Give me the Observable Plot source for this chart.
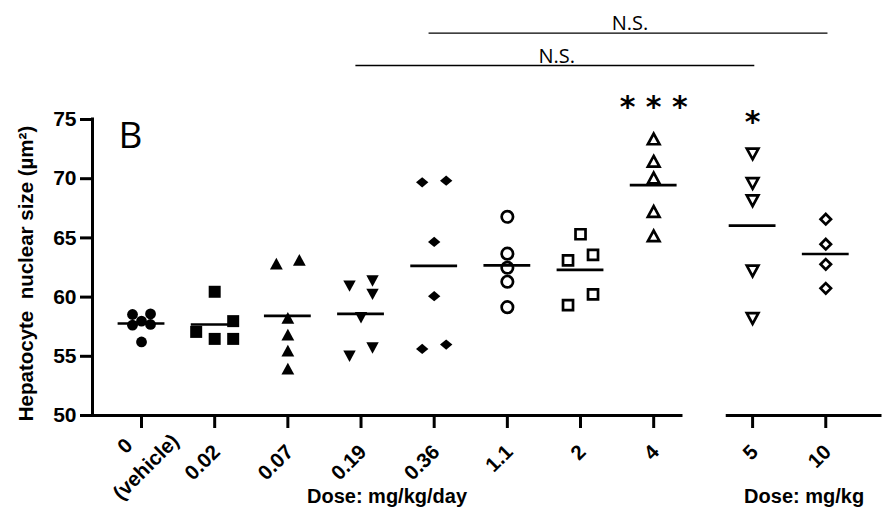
<!DOCTYPE html>
<html><head><meta charset="utf-8">
<script src="https://cdn.jsdelivr.net/npm/d3@7"></script>
<script src="https://cdn.jsdelivr.net/npm/@observablehq/plot@0.6"></script>
<style>body{margin:0;background:#fff;}</style>
</head><body><div id="chart"></div>
<script>
// ---- data ----
const categories = ["0\n(vehicle)", "0.02", "0.07", "0.19", "0.36", "1.1", "2", "4", "5", "10"];
const v0    = [58.58, 58.53, 57.97, 57.69, 57.63, 56.21];
const v002  = [60.45, 57.97, 57.06, 56.47, 56.47];
const v007  = [63.14, 62.82, 58.25, 56.84, 55.48, 53.96];
const v019  = [61.36, 60.93, 60.23, 58.25, 55.70, 55.00];
const v036  = [69.83, 69.69, 64.66, 60.08, 55.99, 55.62];
const v11   = [66.78, 63.67, 62.48, 61.30, 59.15];
const v2    = [65.31, 63.56, 63.11, 60.23, 59.32];
const v4    = [73.36, 71.47, 70.06, 67.23, 65.17];
const v5    = [72.09, 69.60, 68.14, 62.20, 58.19];
const v10   = [66.58, 64.47, 62.77, 60.74];
const seriesValues = [v0, v002, v007, v019, v036, v11, v2, v4, v5, v10];
const significance = ["", "", "", "", "", "", "", "***", "*", ""];
const comparisons = [
  {from: "0.19", to: "5", label: "N.S.", level: 1},
  {from: "0.36", to: "10", label: "N.S.", level: 2}
];
const yTicks = [50, 55, 60, 65, 70, 75];
const yTitle = "Hepatocyte  nuclear size (µm²)";
const axisTitles = ["Dose: mg/kg/day", "Dose: mg/kg"];

// ---- layout helpers ----
const W = 884, H = 513;
const mL = 92, mR = 4, mT = 119, mB = 98;
const breakAfter = 7, gap = 0.352;
const pos = i => i <= breakAfter ? i : i + gap;
const xMin = -0.67, xMax = 10.1;
const pxPerX = (W - mL - mR) / (xMax - xMin);
const pxPerY = (H - mT - mB) / 25;

// custom symbols (r recovered from area)
const mk = fn => ({draw(ctx, size) { const r = Math.sqrt(size / Math.PI); fn(ctx, r); }});
const symCircle = mk((c, r) => { c.moveTo(r, 0); c.arc(0, 0, r, 0, 2 * Math.PI); });
const symSquare = mk((c, r) => { c.rect(-r, -r, 2 * r, 2 * r); });
const symTriUp = mk((c, r) => { c.moveTo(0, -0.92 * r); c.lineTo(r, 0.92 * r); c.lineTo(-r, 0.92 * r); c.closePath(); });
const symTriDown = mk((c, r) => { c.moveTo(0, 0.92 * r); c.lineTo(r, -0.92 * r); c.lineTo(-r, -0.92 * r); c.closePath(); });
const symDiamondFlat = mk((c, r) => { c.moveTo(0, -0.83 * r); c.lineTo(r, 0); c.lineTo(0, 0.83 * r); c.lineTo(-r, 0); c.closePath(); });
const symDiamond = mk((c, r) => { c.moveTo(0, -r); c.lineTo(r, 0); c.lineTo(0, r); c.lineTo(-r, 0); c.closePath(); });

const markers = [
  {symbol: symCircle, r: 5.4, filled: true, lane: 9, thr: 9.5},
  {symbol: symSquare, r: 6, filled: true, lane: 18.5, thr: 12},
  {symbol: symTriUp, r: 6.4, filled: true, lane: 11.5, thr: 11.5},
  {symbol: symTriDown, r: 6.2, filled: true, lane: 11.5, thr: 11.5},
  {symbol: symDiamondFlat, r: 6.2, filled: true, lane: 12, thr: 10.5},
  {symbol: symCircle, r: 5.7, filled: false, lane: 12, thr: 12},
  {symbol: symSquare, r: 5, filled: false, lane: 12.5, thr: 12},
  {symbol: symTriUp, r: 5.8, filled: false, lane: 12, thr: 13},
  {symbol: symTriDown, r: 5.8, filled: false, lane: 12, thr: 13},
  {symbol: symDiamond, r: 5.2, filled: false, lane: 12, thr: 13}
];

// simple dodge: descending order, spread colliding points into lanes
function dodge(values, lane, thr) {
  const pts = values.map(v => ({value: v, py: -v * pxPerY, ox: 0}));
  const sorted = pts.slice().sort((a, b) => b.value - a.value);
  const placed = [];
  const cand = [1, -1, 0, 2, -2, 3, -3];
  for (const p of sorted) {
    const conflict = pts.some(q => q !== p && Math.abs(q.py - p.py) < thr);
    if (!conflict) { p.ox = 0; placed.push(p); continue; }
    for (const k of cand) {
      const ox = k * lane;
      if (placed.every(q => Math.hypot(q.ox - ox, q.py - p.py) >= thr)) { p.ox = ox; break; }
    }
    placed.push(p);
  }
  return pts;
}

const groups = categories.map((c, i) => ({
  cat: c, i, values: seriesValues[i],
  mean: d3.mean(seriesValues[i]), max: d3.max(seriesValues[i]), sig: significance[i]
}));

const marks = [];
// axes lines
marks.push(Plot.ruleX([xMin], {y1: 50, y2: 75, strokeWidth: 3, strokeLinecap: "square"}));
marks.push(Plot.ruleY([50], {x1: xMin, x2: pos(breakAfter) + 0.38, strokeWidth: 3, strokeLinecap: "square"}));
marks.push(Plot.ruleY([50], {x1: pos(breakAfter + 1) - 0.34, x2: xMax, strokeWidth: 3, strokeLinecap: "square"}));
marks.push(Plot.axisY({ticks: yTicks, tickSize: 12, strokeWidth: 3, tickPadding: 4, fontSize: 21, label: null}));
marks.push(Plot.axisX({ticks: categories.map((c, i) => pos(i)), tickSize: 13, strokeWidth: 3, tickFormat: () => "", label: null}));

// points
groups.forEach(g => {
  const m = markers[g.i];
  const pts = dodge(g.values, m.lane, m.thr);
  marks.push(Plot.dot(pts, {
    x: d => pos(g.i) + d.ox / pxPerX, y: "value",
    symbol: m.symbol, r: m.r,
    fill: m.filled ? "black" : "white", stroke: "black",
    strokeWidth: m.filled ? 0 : 2.7
  }));
});
// mean lines
marks.push(Plot.ruleY(groups, {y: "mean", x1: d => pos(d.i) - 0.32, x2: d => pos(d.i) + 0.32, strokeWidth: 2.7}));

// significance stars
marks.push(Plot.text(groups.filter(g => g.sig), {
  x: d => pos(d.i), y: d => d.max + 3.25, text: d => d.sig.split("").join(" "),
  fontFamily: "DejaVu Sans", fontWeight: "bold", fontSize: 30, lineAnchor: "middle", dy: 7
}));
// comparison brackets
const idx = c => categories.indexOf(c);
const levelY = l => 76.83 + 2.73 * l;
marks.push(Plot.ruleY(comparisons, {y: d => levelY(d.level), x1: d => pos(idx(d.from)) - 0.07, x2: d => pos(idx(d.to)) + 0.03, strokeWidth: 1.3}));
marks.push(Plot.text(comparisons, {
  x: d => (pos(idx(d.from)) + pos(idx(d.to))) / 2, y: d => levelY(d.level), text: "label",
  fontFamily: "Open Sans", fontWeight: "normal", fontSize: 20, lineAnchor: "bottom", dy: -3
}));

// panel letter
marks.push(Plot.text(["B"], {frameAnchor: "top-left", text: d => d, dx: 26, dy: 2, textAnchor: "start", lineAnchor: "top",
  fontFamily: "Open Sans", fontWeight: "normal", fontSize: 37}));

// x tick labels
marks.push(Plot.text(groups.slice(1), {x: d => pos(d.i), y: () => 50, text: "cat", rotate: -45, textAnchor: "end", lineAnchor: "middle", dx: 2, dy: 33, fontSize: 20.5}));
marks.push(Plot.text(groups.slice(0, 1), {x: d => pos(d.i), y: () => 50, text: "cat", rotate: -45, textAnchor: "middle", lineAnchor: "middle", lineHeight: 1.45, dx: -8, dy: 39, fontSize: 20.5}));

// axis titles
marks.push(Plot.text([axisTitles[0]], {x: () => (xMin + pos(breakAfter) + 0.38) / 2, y: () => 50, text: d => d, dy: 81, fontSize: 20, lineAnchor: "middle"}));
marks.push(Plot.text([axisTitles[1]], {x: () => (pos(breakAfter + 1) - 0.34 + xMax) / 2, y: () => 50, text: d => d, dy: 81, fontSize: 20, lineAnchor: "middle"}));
marks.push(Plot.text([yTitle], {x: () => xMin, y: () => 62.5, text: d => d, dx: -66, dy: 6, rotate: -90, fontSize: 20.5, lineAnchor: "middle", textAnchor: "middle"}));

const chart = Plot.plot({
  width: W, height: H,
  marginLeft: mL, marginRight: mR, marginTop: mT, marginBottom: mB,
  x: {type: "linear", domain: [xMin, xMax], axis: null},
  y: {domain: [50, 75], axis: null},
  style: {fontFamily: "'Liberation Sans', Arial, sans-serif", fontWeight: "bold", fontSize: "19px", background: "#fff", color: "black"},
  marks
});
document.getElementById("chart").appendChild(chart);
</script>
</body></html>
